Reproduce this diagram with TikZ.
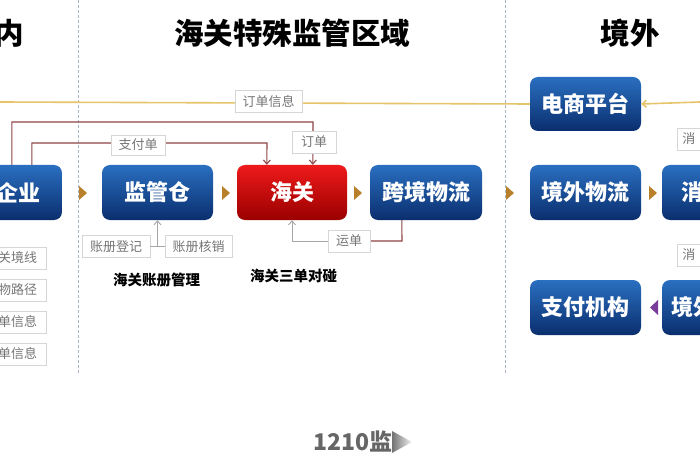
\documentclass[tikz,border=0pt]{standalone}
\usepackage{fontspec}
\setmainfont{Noto Sans CJK SC}
\usetikzlibrary{arrows.meta,calc}
\definecolor{bluetop}{HTML}{2A6FC0}
\definecolor{bluebot}{HTML}{0A2E6E}
\definecolor{redtop}{HTML}{EE1A1A}
\definecolor{redbot}{HTML}{9A0000}
\definecolor{linered}{HTML}{8E4545}
\definecolor{lineyel}{HTML}{E6C46A}
\definecolor{tribrown}{HTML}{B8802A}
\definecolor{tripurple}{HTML}{7A3C9A}
\definecolor{dashc}{HTML}{A8B4C4}
\definecolor{tagtext}{HTML}{767676}
\definecolor{tagline}{HTML}{D6D6D6}
\tikzset{
  boxfont/.style={font=\bfseries\fontsize{22}{24}\selectfont},
  bluebox/.style={rounded corners=8pt, top color=bluetop, bottom color=bluebot, minimum height=55pt, minimum width=111pt, inner sep=0pt, text=white, boxfont},
  redbox/.style={bluebox, top color=redtop, bottom color=redbot},
  tag/.style={draw=tagline, fill=white, line width=0.8pt, text=tagtext, font=\fontsize{13}{15}\selectfont, minimum height=22pt, inner xsep=5pt, inner ysep=0pt},
  title/.style={font=\bfseries\fontsize{29.5}{32}\selectfont, text=black},
  sub/.style={font=\bfseries\fontsize{14.5}{16}\selectfont, text=black},
  redline/.style={draw=linered, line width=1.1pt},
  grayline/.style={draw=black!35, line width=0.9pt},
  yelline/.style={draw=lineyel, line width=1.6pt},
  openarr/.style={-{Straight Barb[length=4pt,width=7pt]}},
  divider/.style={draw=dashc, line width=0.8pt, dash pattern=on 3pt off 2pt},
}
\begin{document}
\begin{tikzpicture}[x=1pt,y=-1pt]
\useasboundingbox (0,0) rectangle (700,470);
\clip (0,0) rectangle (700,470);
\fill[white] (0,0) rectangle (700,470);
% dividers
\draw[divider] (78,0) -- (78,375);
\draw[divider] (505,0) -- (505,375);
% titles
\node[title] (t1) at (9,33) {内};
\node[title] (t2) at (292,33) {海关特殊监管区域};
\node[title] (t3) at (630,33) {境外};
% boxes
\node[bluebox, minimum width=112pt] (qiye) at (6,192.5) {};
\node[text=white, boxfont, inner sep=0pt] (qiyet) at (18,192.5) {企业};
\node[bluebox] (jgc) at (157.5,192.5) {监管仓};
\node[redbox, minimum width=110pt] (hg) at (292,192.5) {海关};
\node[bluebox, minimum width=112pt] (kjwl) at (426,192.5) {跨境物流};
\node[bluebox] (jwwl) at (585.5,192.5) {境外物流};
\node[bluebox, minimum width=112pt] (xf) at (718,192.5) {};
\node[text=white, boxfont, anchor=west, inner sep=0pt] (xft) at (681,192.5) {消};
\node[bluebox, minimum height=54pt] (dspt) at (585.5,104) {电商平台};
\node[bluebox] (zfjg) at (585.5,307.5) {支付机构};
\node[bluebox, minimum width=112pt] (jw2) at (718,307.5) {};
\node[text=white, boxfont, anchor=west, inner sep=0pt] (jw2t) at (671,307.5) {境外};
% triangles
\foreach \x in {79,222,354,506,649} \fill[tribrown] (\x,186) -- (\x+8,193) -- (\x,200) -- cycle;
\fill[tripurple] (658,300) -- (650,307.5) -- (658,315) -- cycle;
% yellow order-info line
\draw[yelline] (0,102) -- (dspt.west);
\coordinate (yr) at (700,102);
\draw[yelline, openarr] (yr) -- (dspt.east);
\node[tag, minimum width=67pt] (ddxx) at (268.5,101.5) {订单信息};
% red lines
\draw[redline, openarr] ([xshift=62pt]qiye.north west) |- (313,122) -- ([xshift=76pt]hg.north west);
\draw[redline, openarr] ([xshift=82pt]qiye.north west) |- (267,143) -- ([xshift=30pt]hg.north west);
\node[tag, minimum width=44pt] (dd) at (314,142) {订单};
\node[tag, minimum width=54pt, minimum height=20pt] (zfd) at (138,145) {支付单};
% waybill
\coordinate (wb) at (402,241);
\draw[redline] ([xshift=32pt]kjwl.south west) -- (wb) -- (370,241);
\draw[grayline, openarr] (328,241) -| (hg.south);
\node[tag, minimum width=42pt] (yd) at (349,241) {运单};
% ledger
\node[tag, minimum width=68pt] (zcdj) at (116,246.5) {账册登记};
\node[tag, minimum width=67pt] (zchx) at (198.5,246.5) {账册核销};
\draw[grayline] (zcdj.east) -- (zchx.west);
\coordinate (lm) at (157.5,246.5);
\draw[grayline, openarr] (lm) -- (jgc.south);
\node[sub] (s1) at (156.5,280) {海关账册管理};
\node[sub] (s2) at (293.5,276) {海关三单对碰};
% left tags
\node[tag, minimum width=58pt, anchor=east] (l1) at (47,258) {关境线};
\node[tag, minimum width=58pt, anchor=east] (l2) at (47,290) {物路径};
\node[tag, minimum width=58pt, anchor=east] (l3) at (47,322) {单信息};
\node[tag, minimum width=58pt, anchor=east] (l4) at (47,354) {单信息};
% right tags
\node[tag, minimum width=40pt, anchor=west, text width=30pt, align=left] (r1) at (677,139) {消};
\node[tag, minimum width=40pt, anchor=west, text width=30pt, align=left] (r2) at (677,255) {消};
% bottom
\node[font=\bfseries\fontsize{23}{25}\selectfont, text=black!60, anchor=west, inner sep=0pt] (b1) at (313,442) {1210监};
\shade[left color=black!55, right color=black!5] (392,431) -- (412,442) -- (392,453) -- cycle;
\end{tikzpicture}
\end{document}
